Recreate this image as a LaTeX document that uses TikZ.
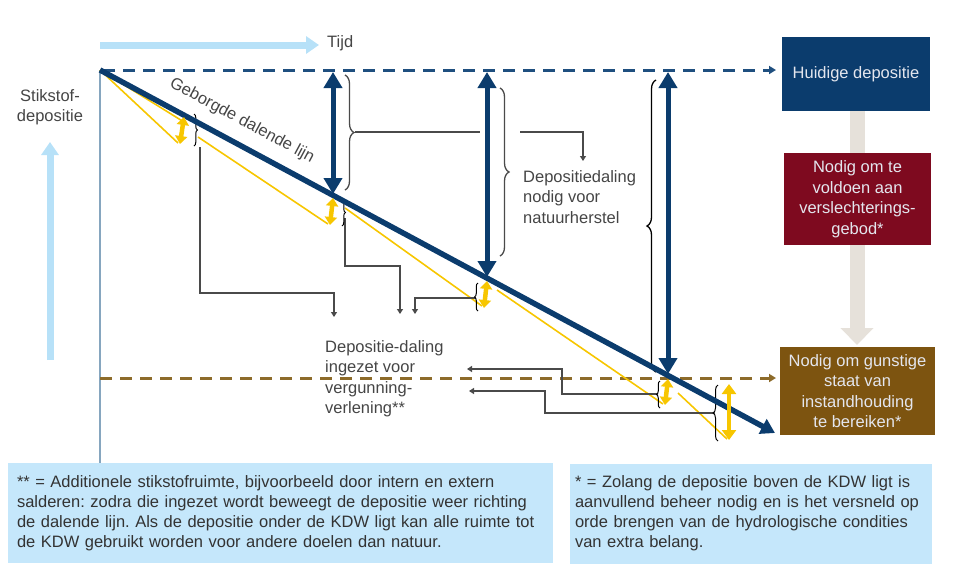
\documentclass[tikz,border=0pt]{standalone}
\usepackage{fontspec}
\setmainfont{Liberation Sans}
\frenchspacing
\usetikzlibrary{arrows.meta,decorations.pathreplacing}
\definecolor{navy}{HTML}{0B3C6D}
\definecolor{dnavy}{HTML}{1F4F7F}
\definecolor{gold}{HTML}{F7C600}
\definecolor{dbrown}{HTML}{8D6B2A}
\definecolor{bbox}{HTML}{7D5410}
\definecolor{rbox}{HTML}{7E0A1F}
\definecolor{beige}{HTML}{E6E1DA}
\definecolor{lblue}{HTML}{B7E1F8}
\definecolor{fnblue}{HTML}{C5E7FB}
\definecolor{axisc}{HTML}{86A6BF}
\definecolor{conngray}{HTML}{4A4A4A}
\definecolor{txtgray}{HTML}{454545}
\definecolor{boxtxt}{HTML}{E4E6EE}
\begin{document}
\begin{tikzpicture}[x=1pt,y=-1pt,
  lbl/.style={font=\fontsize{16.5}{20.5}\selectfont, text=txtgray, inner sep=0pt, align=left},
  conn/.style={draw=conngray, line width=1.3pt, -{Triangle[width=6pt,length=5pt]}},
  bigarrow/.style={draw=navy, line width=5pt, {Triangle[width=18pt,length=16pt]}-{Triangle[width=18pt,length=16pt]}},
  ytooth/.style={draw=gold, line width=4.5pt, {Triangle[width=12pt,length=8pt]}-{Triangle[width=12pt,length=8pt]}},
  yline/.style={draw=gold, line width=1.6pt},
  bracesm/.style={decorate, decoration={brace, amplitude=3.5pt}, draw=black, line width=1pt},
  bracebig/.style={decorate, decoration={brace, amplitude=9pt}, line width=1.3pt},
  colbox/.style={inner sep=2pt, text=boxtxt, align=center, font=\fontsize{16.5}{20.5}\selectfont},
  fnbox/.style={fill=fnblue, inner xsep=9pt, inner ysep=0pt, minimum height=100pt, align=left, text=black!80, font=\fontsize{16.5}{20}\selectfont},
  dline/.style={line width=3pt, dash pattern=on 12pt off 8pt, -{Triangle[width=8pt,length=7pt]}},
  lbarrow/.style={draw=lblue, line width=7pt, -{Triangle[width=17pt,length=13pt]}}
]
\useasboundingbox (0,0) rectangle (956,566);

% footnote boxes
\node[fnbox, text width=527pt] (fnL) at (280.5,513) {** = Additionele stikstofruimte, bijvoorbeeld door intern en extern\\salderen: zodra die ingezet wordt beweegt de depositie weer richting\\de dalende lijn. Als de depositie onder de KDW ligt kan alle ruimte tot\\de KDW gebruikt worden voor andere doelen dan natuur.};
\node[fnbox, text width=352pt, inner xsep=5pt] (fnR) at (751,513.5) {* = Zolang de depositie boven de KDW ligt is\\aanvullend beheer nodig en is het versneld op\\orde brengen van de hydrologische condities\\van extra belang.};

% coordinates
\coordinate (O) at (100,70);
\coordinate (E) at (775,433);
\coordinate (axB) at (100,463);
\coordinate (tA) at (100,45);
\coordinate (tB) at (319,45);
\coordinate (sA) at (50,360);
\coordinate (sB) at (50,142);

% axis
\draw[axisc, line width=1.5pt] (O) -- (axB);
\draw[lbarrow] (tA) -- (tB);
\draw[lbarrow] (sA) -- (sB);

% right boxes
\draw[beige, line width=15pt, -{Triangle[width=32pt,length=17pt]}] (857,111) -- (857,345);
\node[colbox, fill=navy, minimum width=148pt, minimum height=74pt] (hd) at (856,74) {Huidige depositie};
\node[colbox, fill=rbox, minimum width=147pt, minimum height=92pt] (vb) at (857.5,199) {Nodig om te\\voldoen aan\\verslechterings-\\gebod*};
\node[colbox, fill=bbox, minimum width=155pt, minimum height=88pt] (gs) at (857.5,391) {Nodig om gunstige\\staat van\\instandhouding\\te bereiken*};

% dashed lines
\coordinate (dnA) at (103,70);
\coordinate (dnB) at (776,70);
\coordinate (dbA) at (100,378);
\coordinate (dbB) at (776,378);
\draw[dline, dnavy] (dnA) -- (dnB);
\draw[dline, dbrown] (dbA) -- (dbB);

% yellow lines
\draw[yline] (O) -- (178,143);
\draw[yline] (O) -- (184,122);
\draw[yline] (198,137) -- (328,224);
\draw[yline] (345,208) -- (482,306);
\draw[yline] (497,290) -- (663,404);
\draw[yline] (678,393) -- (727,439);

% connectors from small braces
\draw[conn] (200,147) -- (200,293) -- (334,293) -- (334,317);
\draw[conn] (345,218) -- (345,266) -- (400,266) -- (400,314);
\draw[conn] (476,298) -- (415,298) -- (415,314);
\draw[conn] (658,394) -- (562,394) -- (562,369) -- (467,369);
\draw[conn] (715,413) -- (545,413) -- (545,391) -- (469,391);

% small braces
\draw[bracesm] (194,114) -- (194,146);
\draw[bracesm] (342,199) -- (342,226);
\draw[bracesm] (478,311) -- (478,283);
\draw[bracesm] (660,408) -- (660,381);
\draw[bracesm, decoration={brace, amplitude=5pt}] (718,441) -- (718,385);

% big braces
\draw[bracebig, draw=conngray] (345,75) -- (345,190);
\draw[bracebig, draw=conngray] (500,88) -- (500,256);
\draw[bracebig, draw=black] (656,372) -- (656,80);
\coordinate (b1tip) at (355,132);
\coordinate (gapL) at (480,132);
\coordinate (gapR) at (520,132);
\coordinate (nk) at (583,132);
\coordinate (nend) at (583,161);
\draw[draw=conngray, line width=1.3pt] (b1tip) -- (gapL);
\draw[conn] (gapR) -- (nk) -- (nend);

% main line
\draw[navy, line width=5.5pt, -{Triangle[width=16pt,length=14pt]}] (O) -- (E);

% big arrows
\draw[bigarrow] (333,72) -- (333,194);
\draw[bigarrow] (487,72) -- (487,277);
\draw[bigarrow] (668,72) -- (668,374);

% yellow teeth
\draw[ytooth] (184,117) -- (180,144);
\draw[ytooth] (333,198) -- (330,225);
\draw[ytooth] (487,281) -- (484,308);
\draw[ytooth] (668,379) -- (665,405);
\draw[ytooth, {Triangle[width=14pt,length=10pt]}-{Triangle[width=14pt,length=10pt]}] (729,384) -- (729,440);

% labels
\node[lbl, anchor=west] (tijd) at (327,43) {Tijd};
\node[lbl, anchor=north, align=center] (stik) at (50,89) {Stikstof-\\depositie};
\node[lbl, rotate=-28.3] (gdl) at (242,121) {Geborgde dalende lijn};
\node[lbl, anchor=north west] (dnat) at (523,170) {Depositiedaling\\nodig voor\\natuurherstel};
\node[lbl, anchor=north west] (dverg) at (325,340) {Depositie-daling\\ingezet voor\\vergunning-\\verlening**};
\end{tikzpicture}
\end{document}
